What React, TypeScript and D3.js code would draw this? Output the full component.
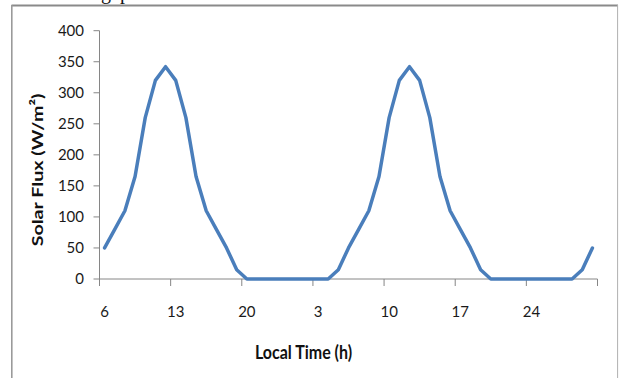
import React from "react";
import * as d3 from "d3";

const hours: number[] = [
  6, 7, 8, 9, 10, 11, 12, 13, 14, 15, 16, 17, 18, 19, 20, 21, 22, 23, 24,
  1, 2, 3, 4, 5, 6, 7, 8, 9, 10, 11, 12, 13, 14, 15, 16, 17, 18, 19, 20, 21, 22, 23, 24,
  1, 2, 3, 4, 5, 6,
];

const flux: number[] = [
  50, 80, 110, 165, 260, 320, 342, 320, 260, 165, 110, 80, 50, 15, 0, 0, 0, 0, 0,
  0, 0, 0, 0, 15, 50, 80, 110, 165, 260, 320, 342, 320, 260, 165, 110, 80, 50, 15, 0, 0, 0, 0, 0,
  0, 0, 0, 0, 15, 50,
];

const yTicks: number[] = [0, 50, 100, 150, 200, 250, 300, 350, 400];
const labelEvery = 7;

const xTitle = "Local Time (h)";
const yTitle = "Solar Flux (W/m²)";

export default function App() {
  const W = 619;
  const H = 378;
  const left = 99.5;
  const right = 597.5;
  const top = 30.7;
  const bottom = 279;

  const idx = hours.map((_, i) => i);
  const x = d3.scaleBand<number>().domain(idx).range([left, right]).padding(0);
  const y = d3.scaleLinear().domain([0, 400]).range([bottom, top]);

  const line = d3
    .line<number>()
    .x((_, i) => (x(i) as number) + x.bandwidth() / 2)
    .y((d) => y(d));

  const tickBoundaries = idx.filter((i) => i % labelEvery === 0).concat([hours.length]);
  const labelIdx = idx.filter((i) => i % labelEvery === 0);
  const axisColor = "#868686";
  const font = "Lato, 'Open Sans', sans-serif";

  return (
    <svg
      width={W}
      height={H}
      style={{ position: "absolute", left: 0, top: 0, display: "block", background: "#fff" }}
    >
      <rect x={0} y={0} width={W} height={H} fill="#fff" />
      {/* cropped text from the page above */}
      <text x={101} y={-1.5} fontFamily="'Liberation Serif', serif" fontSize={20} fill="#111">g</text>
      <text x={120} y={-1.5} fontFamily="'Liberation Serif', serif" fontSize={20} fill="#111">p</text>

      {/* outer frame */}
      <line x1={11.5} y1={5.6} x2={618} y2={5.6} stroke="#8a8a8a" strokeWidth={2} />
      <line x1={11.8} y1={5} x2={11.8} y2={H} stroke="#9a9a9a" strokeWidth={1.6} />
      <line x1={617.6} y1={5} x2={617.6} y2={H} stroke="#b0b0b0" strokeWidth={1} />

      {/* y axis */}
      <line x1={left} y1={top} x2={left} y2={bottom} stroke={axisColor} strokeWidth={1} />
      {yTicks.map((t) => (
        <g key={t}>
          <line x1={left - 6} x2={left} y1={y(t)} y2={y(t)} stroke={axisColor} strokeWidth={1} />
          <text
            x={84}
            y={y(t)}
            dy="0.36em"
            textAnchor="end"
            fontFamily={font}
            fontSize={15}
            fill="#1a1a1a"
          >
            {t}
          </text>
        </g>
      ))}

      {/* x axis */}
      <line x1={left} y1={bottom} x2={right} y2={bottom} stroke={axisColor} strokeWidth={1} />
      {tickBoundaries.map((i) => {
        const xx = i === hours.length ? right : (x(i) as number);
        return (
          <line key={i} x1={xx} x2={xx} y1={bottom} y2={bottom + 7} stroke={axisColor} strokeWidth={1} />
        );
      })}
      {labelIdx.map((i) => (
        <text
          key={i}
          x={(x(i) as number) + x.bandwidth() / 2}
          y={316.5}
          textAnchor="middle"
          fontFamily={font}
          fontSize={15}
          fill="#1a1a1a"
        >
          {hours[i]}
        </text>
      ))}

      {/* series */}
      <path
        d={line(flux) || ""}
        fill="none"
        stroke="#4a7ebb"
        strokeWidth={3.5}
        strokeLinejoin="round"
        strokeLinecap="round"
      />

      {/* titles */}
      <text
        transform="translate(303.5,359) scale(1,1.2)"
        textAnchor="middle"
        fontFamily={font}
        fontWeight="bold"
        fontSize={16}
        fill="#111"
      >
        {xTitle}
      </text>
      <text
        transform="translate(42.5,170) rotate(-90) scale(1.23,1)"
        textAnchor="middle"
        fontFamily={font}
        fontWeight="bold"
        fontSize={16}
        fill="#111"
      >
        {yTitle}
      </text>
    </svg>
  );
}
